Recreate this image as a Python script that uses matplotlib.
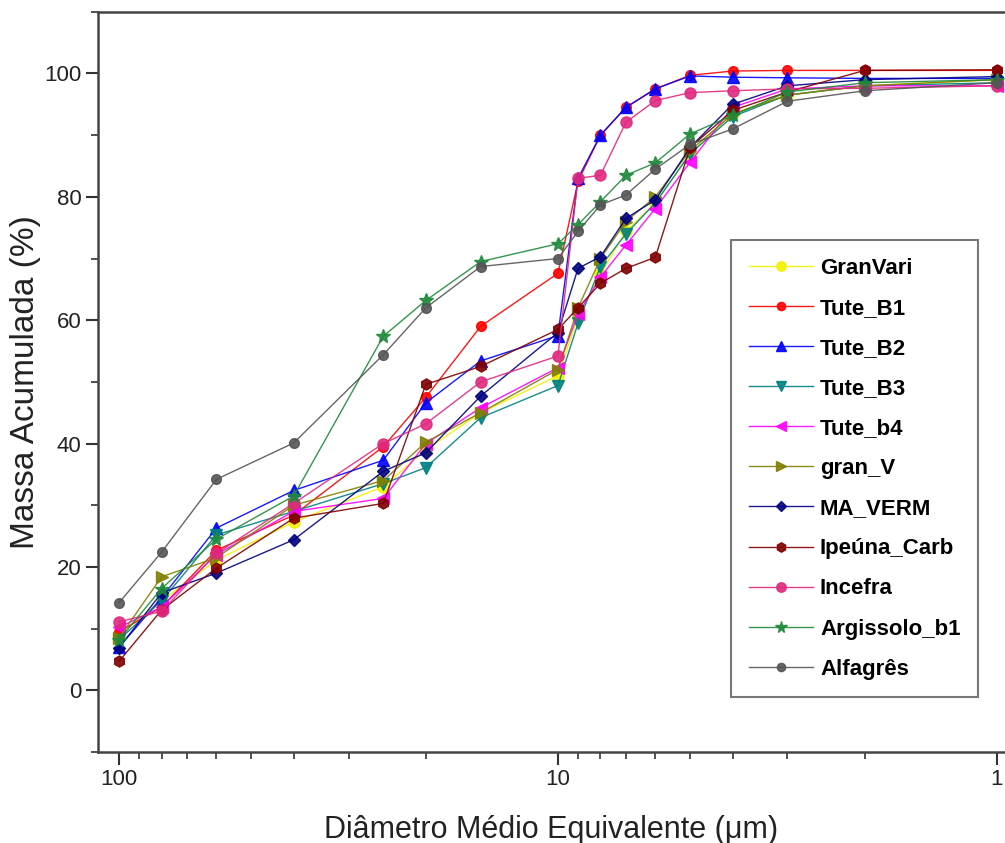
import matplotlib
matplotlib.use('Agg')
import matplotlib.pyplot as plt
from matplotlib.ticker import FixedLocator, NullFormatter, MultipleLocator

# diameters (um), same for every sample
x_um = [100, 80, 60, 40, 25, 20, 15, 10, 9, 8, 7, 6, 5, 4, 3, 2, 1]

# cumulative mass (%)
granvari = [9.0, 14.5, 21.1, 27.3, 33.0, 39.0, 45.0, 51.0, 60.5, 67.5, 74.4, 79.0, 87.0, 93.5, 96.5, 98.0, 99.0]
tute_b1 = [9.5, 13.5, 22.7, 28.4, 39.5, 47.5, 59.0, 67.6, 82.5, 90.0, 94.5, 97.5, 99.7, 100.4, 100.5, 100.5, 100.5]
tute_b2 = [7.0, 15.0, 26.3, 32.4, 37.3, 46.6, 53.4, 57.5, 83.0, 90.0, 94.5, 97.5, 99.6, 99.4, 99.3, 99.2, 99.2]
tute_b3 = [8.2, 14.5, 25.2, 29.0, 33.5, 36.1, 44.2, 49.4, 59.5, 68.7, 74.0, 79.0, 87.0, 93.0, 96.5, 98.0, 98.5]
tute_b4 = [10.2, 13.5, 22.0, 29.0, 31.1, 40.0, 45.8, 52.3, 61.0, 67.0, 72.2, 78.1, 85.6, 94.5, 97.5, 98.0, 98.0]
gran_v = [8.5, 18.4, 21.5, 30.0, 34.0, 40.2, 45.0, 52.0, 62.0, 70.0, 76.0, 80.0, 87.5, 93.4, 96.5, 98.0, 99.0]
ma_verm = [6.9, 15.8, 19.0, 24.4, 35.5, 38.5, 47.7, 58.0, 68.4, 70.3, 76.5, 79.5, 88.0, 95.0, 98.0, 99.0, 99.5]
ipeuna = [4.7, 13.0, 19.8, 27.9, 30.3, 49.6, 52.5, 58.5, 62.0, 66.0, 68.4, 70.2, 88.0, 94.0, 97.0, 100.5, 100.6]
incefra = [11.1, 12.8, 22.2, 30.3, 40.0, 43.2, 50.0, 54.2, 83.0, 83.5, 92.1, 95.6, 96.9, 97.2, 97.5, 97.6, 98.0]
argissolo = [8.2, 16.5, 24.5, 31.5, 57.4, 63.2, 69.5, 72.4, 75.5, 79.2, 83.5, 85.5, 90.2, 93.2, 97.0, 98.5, 99.0]
alfagres = [14.2, 22.4, 34.2, 40.1, 54.4, 62.0, 68.7, 70.0, 74.4, 78.7, 80.3, 84.5, 88.5, 91.0, 95.5, 97.2, 98.5]

labels = ['GranVari', 'Tute_B1', 'Tute_B2', 'Tute_B3', 'Tute_b4', 'gran_V',
          'MA_VERM', 'Ipeúna_Carb', 'Incefra', 'Argissolo_b1', 'Alfagrês']
series = [granvari, tute_b1, tute_b2, tute_b3, tute_b4, gran_v,
          ma_verm, ipeuna, incefra, argissolo, alfagres]
colors = ['#f2f200', '#ff0000', '#0000ff', '#008080', '#ff00ff', '#808000',
          '#000080', '#800000', '#e0287f', '#1f8a3c', '#555555']
markers = ['o', 'o', '^', 'v', '<', '>', 'D', 'h', 'o', '*', 'o']
msizes = [8, 7, 8, 8, 8, 8, 6, 8, 8, 10, 7]

plt.rcParams['font.family'] = ['Liberation Sans', 'DejaVu Sans']

fig = plt.figure(figsize=(10.05, 8.43), dpi=100)
ax = fig.add_axes([0.0975, 0.108, 0.9025, 0.878])

for ys, lab, c, m, ms in zip(series, labels, colors, markers, msizes):
    ax.plot(x_um, ys, color=c, lw=1.0, marker=m, markersize=ms,
            markerfacecolor=c, markeredgecolor=c, label=lab, alpha=0.9)

ax.set_xscale('log')
ax.set_xlim(111.7, 0.958)
ax.set_ylim(-10, 110)

ax.xaxis.set_major_locator(FixedLocator([100, 10, 1]))
ax.set_xticklabels(['100', '10', '1'])
minors = [90, 80, 70, 60, 50, 40, 30, 20, 9, 8, 7, 6, 5, 4, 3, 2]
ax.xaxis.set_minor_locator(FixedLocator(minors))
ax.xaxis.set_minor_formatter(NullFormatter())
ax.yaxis.set_major_locator(FixedLocator([0, 20, 40, 60, 80, 100]))
ax.yaxis.set_minor_locator(MultipleLocator(10))

ax.tick_params(which='major', direction='out', length=9, width=1.5, colors='#333333',
               labelsize=16, labelcolor='#222222', pad=3)
ax.tick_params(which='minor', direction='out', length=5, width=1.2, colors='#333333')

for s in ['left', 'bottom', 'top']:
    ax.spines[s].set_linewidth(1.8)
    ax.spines[s].set_color('#444444')
ax.spines['right'].set_visible(False)

ax.set_xlabel('Diâmetro Médio Equivalente (\u03bcm)', fontsize=22, color='#222222', labelpad=18)
ax.set_ylabel('Massa Acumulada (%)', fontsize=24, color='#222222', labelpad=2)

leg = ax.legend(loc='upper left', bbox_to_anchor=(0.698, 0.692), borderaxespad=0,
                fancybox=False, frameon=True, handlelength=2.9, handletextpad=0.3,
                labelspacing=0.86, borderpad=0.8, markerscale=0.85,
                prop={'family': 'Liberation Sans', 'weight': 'bold', 'size': 16})
leg.get_frame().set_edgecolor('#555555')
leg.get_frame().set_linewidth(1.5)

fig.savefig('out.png', dpi=100)
